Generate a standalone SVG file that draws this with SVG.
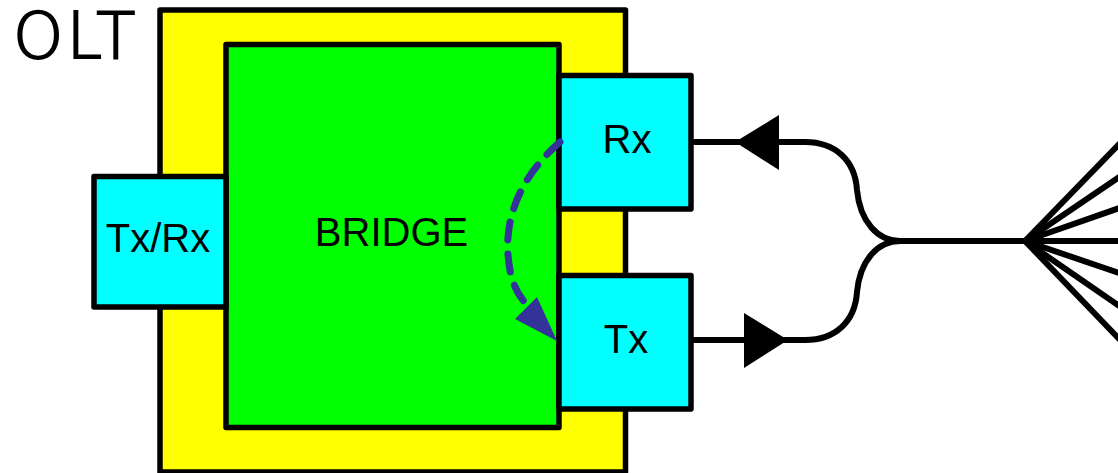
<svg xmlns="http://www.w3.org/2000/svg" width="1118" height="473" viewBox="0 0 1118 473">
  <style>
    .box { stroke: #000; stroke-width: 5.5; stroke-linejoin: round; }
    .lbl { font-family: "Liberation Sans", Arial, sans-serif; font-size: 40px; fill: #000; text-anchor: middle; }
    .wire { fill: none; stroke: #000; stroke-width: 6; }
    .head { fill: #000; stroke: none; }
  </style>
  <rect width="1118" height="473" fill="#fff"/>
  <text x="13" y="58" style="font-family: 'DejaVu Sans', sans-serif; font-size: 64px; font-weight: 200; letter-spacing: 3px; fill: #000; stroke: #000; stroke-width: 1.8;">OLT</text>
  <g id="olt">
    <rect class="box" x="160" y="10" width="465.5" height="462" fill="#ffff00"/>
  </g>
  <g id="bridge">
    <rect class="box" x="226" y="44.5" width="333" height="383" fill="#00ff00"/>
    <text class="lbl" x="391.5" y="246">BRIDGE</text>
  </g>
  <g id="txrx">
    <rect class="box" x="94" y="176.5" width="132" height="130.5" fill="#00ffff"/>
    <text class="lbl" x="158" y="252">Tx/Rx</text>
  </g>
  <g id="rx">
    <rect class="box" x="559" y="75.5" width="132" height="133.5" fill="#00ffff"/>
    <text class="lbl" x="627" y="153">Rx</text>
  </g>
  <g id="tx">
    <rect class="box" x="559" y="275.5" width="132" height="133.5" fill="#00ffff"/>
    <text class="lbl" x="626" y="353">Tx</text>
  </g>
  <g id="connectors">
    <path class="wire" d="M691,142 H805 C835,142 855,160 857,190 C860,222 878,241 900,241 H1025"/>
    <path class="wire" d="M691,340 H805 C835,340 855,322 857,292 C860,260 878,241 900,241"/>
    <polygon class="head" points="735,142 779,115 779,170"/>
    <polygon class="head" points="788,340 744,313 744,368"/>
    <g class="wire">
      <line x1="1025" y1="241" x2="1125" y2="138"/>
      <line x1="1025" y1="241" x2="1125" y2="173"/>
      <line x1="1025" y1="241" x2="1125" y2="206"/>
      <line x1="1025" y1="241" x2="1125" y2="241"/>
      <line x1="1025" y1="241" x2="1125" y2="275"/>
      <line x1="1025" y1="241" x2="1125" y2="310"/>
      <line x1="1025" y1="241" x2="1125" y2="345"/>
    </g>
    <path d="M560,142 C522,175 505,215 508,255 C510,280 516,293 527,305" fill="none" stroke="#333399" stroke-width="7" stroke-linecap="round" stroke-dasharray="18 14"/>
    <polygon points="537,297 515,319 557,341" fill="#333399"/>
  </g>
</svg>
